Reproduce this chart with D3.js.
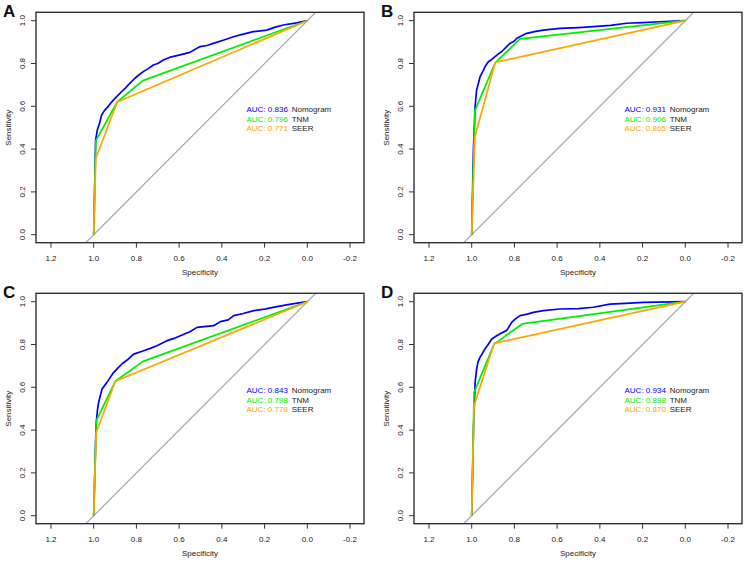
<!DOCTYPE html>
<html>
<head>
<meta charset="utf-8">
<script src="https://cdn.jsdelivr.net/npm/d3@7"></script>
<style>
  body { margin: 0; background: #fff; }
  svg text { font-family: "Liberation Sans", Arial, sans-serif; }
</style>
</head>
<body>
<div id="chart"></div>
<script>
// ROC points: [specificity, sensitivity]
var nomogramA = [[1,0],[0.991,0.442],[0.983,0.49],[0.973,0.52],[0.963,0.559],[0.95,0.58],[0.931,0.601],[0.912,0.625],[0.892,0.645],[0.87,0.668],[0.853,0.684],[0.83,0.708],[0.807,0.731],[0.79,0.745],[0.768,0.762],[0.745,0.776],[0.721,0.793],[0.7,0.8],[0.674,0.816],[0.64,0.83],[0.596,0.84],[0.55,0.852],[0.502,0.879],[0.47,0.884],[0.44,0.894],[0.39,0.91],[0.346,0.925],[0.3,0.937],[0.253,0.949],[0.19,0.956],[0.15,0.97],[0.112,0.98],[0.05,0.99],[0,1]]
var tnmA = [[1,0],[0.99,0.44],[0.89,0.62],[0.77,0.72],[0,1]]
var seerA = [[1,0],[0.99,0.357],[0.89,0.62],[0,1]]

var nomogramB = [[1,0],[0.992,0.396],[0.984,0.598],[0.977,0.676],[0.968,0.71],[0.961,0.738],[0.945,0.769],[0.935,0.79],[0.922,0.808],[0.905,0.82],[0.891,0.832],[0.875,0.845],[0.86,0.855],[0.84,0.875],[0.821,0.894],[0.8,0.905],[0.789,0.918],[0.765,0.93],[0.743,0.941],[0.7,0.95],[0.665,0.956],[0.587,0.964],[0.5,0.968],[0.431,0.972],[0.35,0.978],[0.275,0.988],[0.2,0.991],[0.119,0.995],[0,1]]
var tnmB = [[1,0],[0.985,0.58],[0.89,0.803],[0.774,0.915],[0,1]]
var seerB = [[1,0],[0.985,0.458],[0.89,0.805],[0,1]]

var nomogramC = [[1,0],[0.989,0.421],[0.983,0.49],[0.977,0.53],[0.961,0.592],[0.938,0.623],[0.92,0.65],[0.906,0.67],[0.885,0.692],[0.867,0.71],[0.84,0.73],[0.813,0.755],[0.766,0.771],[0.735,0.782],[0.704,0.794],[0.657,0.818],[0.62,0.83],[0.594,0.841],[0.55,0.86],[0.516,0.88],[0.438,0.888],[0.407,0.907],[0.37,0.915],[0.345,0.935],[0.3,0.945],[0.251,0.958],[0.2,0.965],[0.142,0.977],[0.07,0.99],[0,1]]
var tnmC = [[1,0],[0.988,0.444],[0.899,0.628],[0.769,0.721],[0,1]]
var seerC = [[1,0],[0.988,0.389],[0.899,0.628],[0,1]]

var nomogramD = [[1,0],[0.992,0.389],[0.984,0.623],[0.977,0.685],[0.97,0.72],[0.961,0.74],[0.938,0.779],[0.92,0.805],[0.906,0.826],[0.885,0.84],[0.867,0.85],[0.836,0.866],[0.813,0.903],[0.795,0.92],[0.774,0.935],[0.74,0.942],[0.711,0.95],[0.665,0.958],[0.587,0.966],[0.5,0.968],[0.431,0.974],[0.353,0.989],[0.28,0.992],[0.197,0.997],[0,1]]
var tnmD = [[1,0],[0.989,0.576],[0.895,0.802],[0.764,0.896],[0,1]]
var seerD = [[1,0],[0.989,0.514],[0.895,0.805],[0,1]]

var panelLetters = ["A", "B", "C", "D"]
var aucNomogram = ["0.836", "0.931", "0.843", "0.934"]
var aucTnm = ["0.796", "0.906", "0.798", "0.898"]
var aucSeer = ["0.771", "0.865", "0.778", "0.870"]
var seriesNames = ["Nomogram", "TNM", "SEER"]
var seriesColors = ["#0000ff", "#00ee00", "#ffa500"]
var xTicks = [1.2, 1.0, 0.8, 0.6, 0.4, 0.2, 0.0, -0.2]
var yTicks = [0.0, 0.2, 0.4, 0.6, 0.8, 1.0]

var curves = [
  [nomogramA, tnmA, seerA],
  [nomogramB, tnmB, seerB],
  [nomogramC, tnmC, seerC],
  [nomogramD, tnmD, seerD]
]
var aucs = [aucNomogram, aucTnm, aucSeer]

var W = 753, H = 564
var svg = d3.select("#chart").append("svg")
  .attr("width", W).attr("height", H)

// plot box inside each panel
var box = {left: 36, right: 364, top: 12.3, bottom: 242.7}
var colOff = [0, 378], rowOff = [0, 281]

var x = d3.scaleLinear().domain([1, 0]).range([93.7, 307.3])
var y = d3.scaleLinear().domain([0, 1]).range([234.7, 20.7])
var line = d3.line().x(d => x(d[0])).y(d => y(d[1]))
var fmt = d3.format(".1f")

panelLetters.forEach(function(letter, i){
  var g = svg.append("g")
    .attr("transform", "translate(" + colOff[i % 2] + "," + rowOff[Math.floor(i / 2)] + ")")

  var clipId = "clip" + i
  g.append("clipPath").attr("id", clipId)
    .append("rect")
    .attr("x", box.left).attr("y", box.top)
    .attr("width", box.right - box.left).attr("height", box.bottom - box.top)

  var plot = g.append("g").attr("clip-path", "url(#" + clipId + ")")

  // chance line: sensitivity = 1 - specificity
  var xd = x.invert(box.left), xe = x.invert(box.right)
  plot.append("path")
    .attr("d", line([[xd, 1 - xd], [xe, 1 - xe]]))
    .attr("fill", "none").attr("stroke", "#a9a9a9").attr("stroke-width", 1.3)

  curves[i].forEach(function(pts, k){
    plot.append("path")
      .attr("d", line(pts))
      .attr("fill", "none")
      .attr("stroke", seriesColors[k])
      .attr("stroke-width", 1.7)
      .attr("stroke-linejoin", "round")
  })

  // box
  g.append("rect")
    .attr("x", box.left).attr("y", box.top)
    .attr("width", box.right - box.left).attr("height", box.bottom - box.top)
    .attr("fill", "none").attr("stroke", "#333").attr("stroke-width", 1.4)

  // x axis
  xTicks.forEach(function(t){
    g.append("line")
      .attr("x1", x(t)).attr("x2", x(t))
      .attr("y1", box.bottom).attr("y2", box.bottom + 5)
      .attr("stroke", "#333").attr("stroke-width", 1)
    g.append("text")
      .attr("x", x(t)).attr("y", 261)
      .attr("text-anchor", "middle")
      .attr("font-size", 8).attr("fill", "#222")
      .text(fmt(t).replace("\u2212", "-"))
  })
  g.append("text")
    .attr("x", 200).attr("y", 275)
    .attr("text-anchor", "middle")
    .attr("font-size", 8).attr("fill", "#222")
    .text("Specificity")

  // y axis
  yTicks.forEach(function(t){
    g.append("line")
      .attr("x1", box.left).attr("x2", box.left - 5)
      .attr("y1", y(t)).attr("y2", y(t))
      .attr("stroke", "#333").attr("stroke-width", 1)
    g.append("text")
      .attr("transform", "translate(25," + y(t) + ") rotate(-90)")
      .attr("text-anchor", "middle")
      .attr("font-size", 8).attr("fill", "#222")
      .text(fmt(t))
  })
  g.append("text")
    .attr("transform", "translate(11," + y(0.5) + ") rotate(-90)")
    .attr("text-anchor", "middle")
    .attr("font-size", 8).attr("fill", "#222")
    .text("Sensitivity")

  // legend
  seriesNames.forEach(function(name, k){
    var ly = 112 + k * 9.6
    g.append("text")
      .attr("x", 246.5).attr("y", ly)
      .attr("font-size", 8).attr("fill", seriesColors[k])
      .text("AUC: " + aucs[k][i])
    g.append("text")
      .attr("x", 291.7).attr("y", ly)
      .attr("font-size", 8).attr("fill", "#222")
      .text(name)
  })

  // panel letter
  g.append("text")
    .attr("x", 3).attr("y", 16.5)
    .attr("font-size", 17).attr("font-weight", "bold").attr("fill", "#111")
    .text(letter)
})
</script>
</body>
</html>
